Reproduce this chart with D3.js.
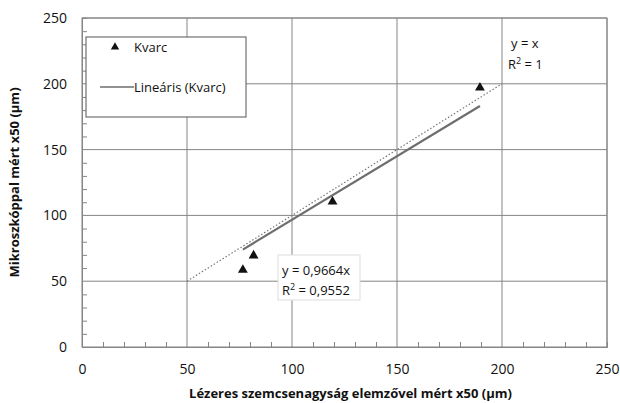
<!DOCTYPE html>
<html>
<head>
<meta charset="utf-8">
<script src="https://cdn.jsdelivr.net/npm/d3@7"></script>
<style>
  body { margin: 0; background: #fff; }
  svg text { font-family: "Open Sans", "Noto Sans", sans-serif; fill: #111; }
</style>
</head>
<body>
<div id="chart"></div>
<script>
// data
const laserX50 = [76.6, 81.7, 119.3, 189.5];
const microX50 = [58.5, 69.5, 110.5, 197];
const slope = 0.9664;
const rSquared = "0,9552";
const majorTicks = [0, 50, 100, 150, 200, 250];
const identityRange = [50, 200];

const W = 620, H = 403;
const margin = { top: 18, right: 13, bottom: 56, left: 82 };
const width = W - margin.left - margin.right;
const height = H - margin.top - margin.bottom;

const svgRoot = d3.select("#chart").append("svg")
  .attr("width", W).attr("height", H);
const svg = svgRoot.append("g").attr("transform", `translate(${margin.left},${margin.top})`);

const x = d3.scaleLinear().domain([0, 250]).range([0, width]);
const y = d3.scaleLinear().domain([0, 250]).range([height, 0]);

const gridColor = "#858585";

// gridlines
svg.append("g").selectAll("line.vx")
  .data(majorTicks.slice(1))
  .join("line")
  .attr("x1", d => x(d)).attr("x2", d => x(d))
  .attr("y1", 0).attr("y2", height)
  .attr("stroke", gridColor).attr("stroke-width", 1);
svg.append("g").selectAll("line.hy")
  .data(majorTicks.slice(1))
  .join("line")
  .attr("y1", d => y(d)).attr("y2", d => y(d))
  .attr("x1", 0).attr("x2", width)
  .attr("stroke", gridColor).attr("stroke-width", 1);

// axes with inside minor ticks
const minor = d3.range(0, 251, 10).filter(v => v % 50 !== 0);
const xAxisG = svg.append("g").attr("transform", `translate(0,${height})`);
xAxisG.call(d3.axisTop(x).tickValues(minor).tickSize(5).tickFormat(""));
const yAxisG = svg.append("g");
yAxisG.call(d3.axisRight(y).tickValues(minor).tickSize(5).tickFormat(""));
[xAxisG, yAxisG].forEach(g => {
  g.select(".domain").attr("stroke", gridColor);
  g.selectAll(".tick line").attr("stroke", gridColor);
});

// major tick labels
svg.append("g").attr("transform", `translate(0,${height})`)
  .call(d3.axisBottom(x).tickValues(majorTicks).tickSize(0).tickPadding(17))
  .call(g => g.select(".domain").remove())
  .selectAll("text").style("font-size", "14px").attr("fill", "#111");
svg.append("g")
  .call(d3.axisLeft(y).tickValues(majorTicks).tickSize(0).tickPadding(15))
  .call(g => g.select(".domain").remove())
  .selectAll("text").style("font-size", "14px").attr("fill", "#111");

// y = x reference line (dotted)
svg.append("line")
  .attr("x1", x(identityRange[0])).attr("y1", y(identityRange[0]))
  .attr("x2", x(identityRange[1])).attr("y2", y(identityRange[1]))
  .attr("stroke", "#777").attr("stroke-width", 1.2)
  .attr("stroke-dasharray", "1.5,2");

// linear trend through origin
const xMin = d3.min(laserX50), xMax = d3.max(laserX50);
svg.append("line")
  .attr("x1", x(xMin)).attr("y1", y(slope * xMin))
  .attr("x2", x(xMax)).attr("y2", y(slope * xMax))
  .attr("stroke", "#6e6e6e").attr("stroke-width", 2.2);

// points
const tri = d3.symbol().type(d3.symbolTriangle).size(42);
svg.append("g").selectAll("path")
  .data(laserX50.map((v, i) => ({ x: v, y: microX50[i] })))
  .join("path")
  .attr("d", tri)
  .attr("transform", d => `translate(${x(d.x)},${y(d.y)})`)
  .attr("fill", "#111");

// plot border
svg.append("rect")
  .attr("width", width).attr("height", height)
  .attr("fill", "none").attr("stroke", gridColor);

// legend
const legend = svgRoot.append("g").attr("transform", "translate(86,37)");
legend.append("rect").attr("width", 160).attr("height", 80)
  .attr("fill", "#fff").attr("stroke", "#555");
legend.append("path").attr("d", tri.size(30))
  .attr("transform", "translate(29,10)").attr("fill", "#111");
legend.append("text").attr("x", 48).attr("y", 15)
  .style("font-size", "13px").text("Kvarc");
legend.append("line").attr("x1", 14).attr("x2", 48).attr("y1", 50).attr("y2", 50)
  .attr("stroke", "#6e6e6e").attr("stroke-width", 1.5);
legend.append("text").attr("x", 48).attr("y", 55)
  .style("font-size", "13px").text("Lineáris (Kvarc)");

// y = x label
const idLabel = svgRoot.append("g").style("font-size", "13px");
idLabel.append("text").attr("x", 511).attr("y", 48).text("y = x");
idLabel.append("text").attr("x", 508).attr("y", 69)
  .html('R<tspan dy="-5" font-size="9">2</tspan><tspan dy="5"> = 1</tspan>');

// trend label box
const trend = svgRoot.append("g").attr("transform", "translate(278,255)");
trend.append("rect").attr("width", 82).attr("height", 45)
  .attr("fill", "#fff").attr("stroke", "#ddd");
trend.append("text").attr("x", 4).attr("y", 20)
  .style("font-size", "13px").text(`y = ${String(slope).replace(".", ",")}x`);
trend.append("text").attr("x", 4).attr("y", 40)
  .style("font-size", "13px")
  .html(`R<tspan dy="-5" font-size="9">2</tspan><tspan dy="5"> = ${rSquared}</tspan>`);

// axis titles
svgRoot.append("text")
  .attr("x", margin.left + width / 2 + 6).attr("y", 398)
  .attr("text-anchor", "middle")
  .style("font-size", "13px").style("font-weight", "bold")
  .text("Lézeres szemcsenagyság elemzővel mért x50 (µm)");
svgRoot.append("text")
  .attr("transform", `translate(19,${margin.top + height / 2}) rotate(-90)`)
  .attr("text-anchor", "middle")
  .style("font-size", "13px").style("font-weight", "bold")
  .text("Mikroszkóppal mért x50 (µm)");
</script>
</body>
</html>
